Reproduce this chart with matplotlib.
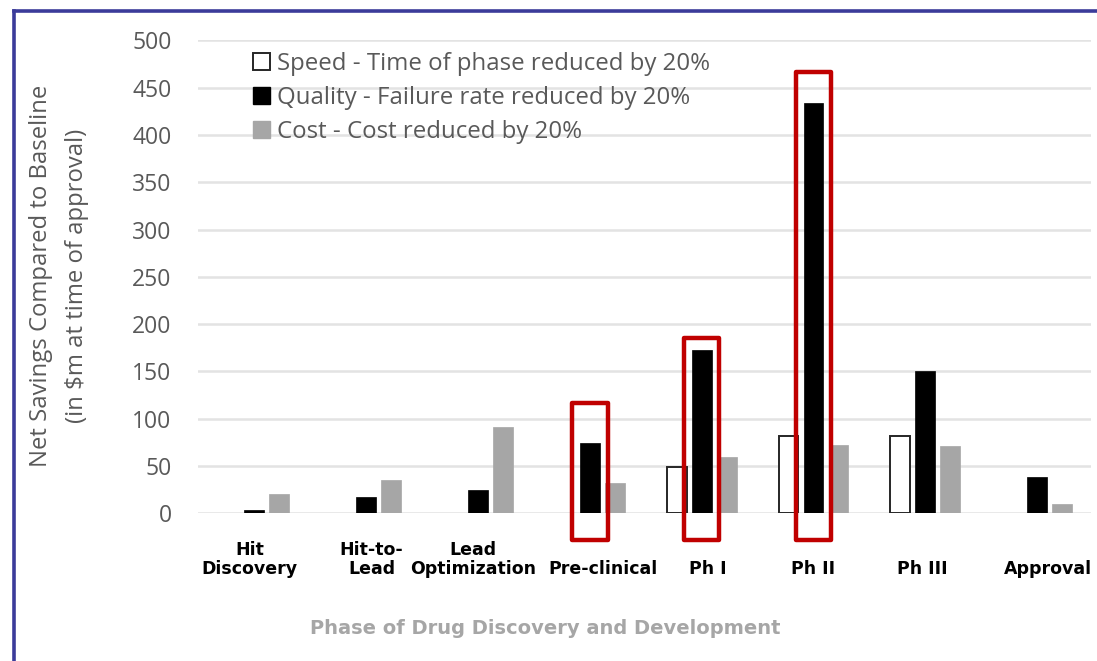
import numpy as np
import matplotlib
matplotlib.use("Agg")
import matplotlib.pyplot as plt
from matplotlib.patches import Patch, Rectangle
import matplotlib.transforms as mtransforms

# phases along the x axis
phases = ["Hit\nDiscovery", "Hit-to-\nLead", "Lead\nOptimization", "Pre-clinical",
          "Ph I", "Ph II", "Ph III", "Approval"]

# net savings ($m)
speed = [0, 0, 0, 0, 49, 82, 82, 0]
quality = [4, 17, 25, 74, 173, 434, 150, 38]
cost = [20, 35, 91, 32, 59, 72, 71, 10]

series_names = ["Speed - Time of phase reduced by 20%",
                "Quality - Failure rate reduced by 20%",
                "Cost - Cost reduced by 20%"]

# phases whose quality bar is boxed in red, and the box tops
highlight = ["Pre-clinical", "Ph I", "Ph II"]
highlight_top = [117, 185, 467]

GRAY_TXT = "#595959"
COST_GRAY = "#a6a6a6"
RED = "#c00000"

plt.rcParams["font.family"] = ["Open Sans", "DejaVu Sans"]

fig = plt.figure(figsize=(10.97, 6.61), dpi=100)
ax = fig.add_axes([198 / 1097, 1 - 513.3 / 661, (1091 - 198) / 1097, (513.3 - 40.4) / 661])

x = np.arange(len(phases))
step = 0.2234
w = 0.178

sp = np.array(speed, dtype=float)
mask = sp > 0
ax.bar(x[mask] - step, sp[mask], w, color="white", edgecolor="#262626", linewidth=1.4, zorder=3)
ax.bar(x, quality, w, color="black", edgecolor="black", linewidth=0.5, zorder=3)
ax.bar(x + step, cost, w, color=COST_GRAY, edgecolor=COST_GRAY, linewidth=0.5, zorder=3)

# red boxes around the quality bars
for name, top in zip(highlight, highlight_top):
    i = phases.index(name)
    rect = Rectangle((i - 0.16, -28), 0.32, top + 28, fill=False, edgecolor=RED,
                     linewidth=3.2, zorder=5, clip_on=False, joinstyle="round")
    ax.add_patch(rect)

ax.set_xlim(-0.5, 7.48)
ax.set_ylim(0, 500)
ax.set_yticks(range(0, 501, 50))
ax.yaxis.grid(True, color="#e3e3e3", linewidth=1.8, zorder=0)
ax.set_axisbelow(True)
for s in ax.spines.values():
    s.set_visible(False)
ax.tick_params(axis="y", length=0, pad=19, labelsize=16.5, labelcolor=GRAY_TXT)
ax.set_xticks([])

# category labels, bottom aligned like the original text boxes
nudge = [-0.04, 0.05, -0.04, 0.12, 0.06, 0.0, -0.03, 0.10]
trans = mtransforms.blended_transform_factory(ax.transData, ax.transAxes)
for i, (lab, dx) in enumerate(zip(phases, nudge)):
    ax.text(i + dx, -0.137, lab, transform=trans, ha="center", va="bottom",
            multialignment="center", fontsize=12.5, fontweight="bold",
            family="DejaVu Sans", color="black", linespacing=1.05)

fig.text(545 / 1097, 1 - 628 / 661, "Phase of Drug Discovery and Development",
         ha="center", va="center", fontsize=14, fontweight="bold",
         family="DejaVu Sans", color="#a6a6a6")

fig.text(41 / 1097, 1 - 276 / 661, "Net Savings Compared to Baseline",
         rotation=90, ha="center", va="center", fontsize=17.2, color=GRAY_TXT)
fig.text(77 / 1097, 1 - 276 / 661, "(in $m at time of approval)",
         rotation=90, ha="center", va="center", fontsize=17.2, color=GRAY_TXT)

handles = [Patch(facecolor="white", edgecolor="#262626", linewidth=1.4),
           Patch(facecolor="black", edgecolor="black"),
           Patch(facecolor=COST_GRAY, edgecolor=COST_GRAY)]
leg = ax.legend(handles, series_names, loc="upper left", bbox_to_anchor=(0.062, 0.976),
                frameon=False, fontsize=17.3, handlelength=0.7, handleheight=0.7,
                handletextpad=0.3, labelspacing=0.42, borderaxespad=0, borderpad=0)
for t in leg.get_texts():
    t.set_color(GRAY_TXT)

# blue frame at left and top
fig.add_artist(plt.Line2D([13.5 / 1097, 13.5 / 1097], [0, 1 - 11 / 661],
                          transform=fig.transFigure, color="#3b3b9a", linewidth=2.6))
fig.add_artist(plt.Line2D([13.5 / 1097, 1], [1 - 11 / 661, 1 - 11 / 661],
                          transform=fig.transFigure, color="#3b3b9a", linewidth=2.6))

fig.savefig("out.png", dpi=100)
